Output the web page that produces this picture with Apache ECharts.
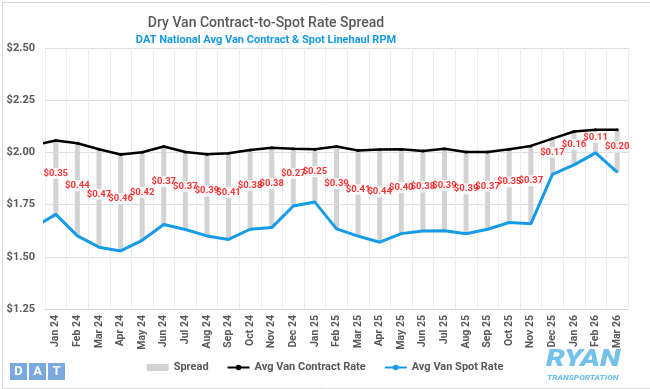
<!DOCTYPE html>
<html><head><meta charset="utf-8">
<script src="https://cdn.jsdelivr.net/npm/echarts@6/dist/echarts.min.js"></script>
<style>html,body{margin:0;padding:0;background:#fff}#c{width:650px;height:389px}</style>
</head><body><div id="c"></div>
<script>
const categories = ["Jan 24","Feb 24","Mar 24","Apr 24","May 24","Jun 24","Jul 24","Aug 24","Sep 24","Oct 24","Nov 24","Dec 24","Jan 25","Feb 25","Mar 25","Apr 25","May 25","Jun 25","Jul 25","Aug 25","Sep 25","Oct 25","Nov 25","Dec 25","Jan 26","Feb 26","Mar 26"];
const contractRate = [2.057,2.044,2.015,1.990,2.001,2.028,2.002,1.991,1.996,2.012,2.022,2.017,2.015,2.028,2.009,2.014,2.015,2.007,2.018,2.002,2.002,2.015,2.031,2.066,2.100,2.108,2.108];
const spotRate = [1.703,1.600,1.546,1.528,1.579,1.655,1.631,1.600,1.583,1.632,1.640,1.743,1.762,1.634,1.599,1.570,1.611,1.624,1.625,1.610,1.632,1.664,1.658,1.895,1.940,1.998,1.906];
const spreadLabels = [0.35,0.44,0.47,0.46,0.42,0.37,0.37,0.39,0.41,0.38,0.38,0.27,0.25,0.39,0.41,0.44,0.40,0.38,0.39,0.39,0.37,0.35,0.37,0.17,0.16,0.11,0.20];
// prior month (Dec 23) values, partly visible at the plot's left edge
const priorContract = 2.035;
const priorSpot = 1.642;
const yTicks = [1.25, 1.50, 1.75, 2.00, 2.25, 2.50];

const FONT = 'Roboto, "Noto Sans", sans-serif';
const GRAY = '#595959';
const chart = echarts.init(document.getElementById('c'));
const toXY = (prior, arr) => [[-1, prior]].concat(arr.map((v, i) => [i, v]));

chart.setOption({
  animation: false,
  backgroundColor: '#fff',
  textStyle: {fontFamily: FONT},
  title: [
    {text: 'Dry Van Contract-to-Spot Rate Spread', left: 261, textAlign: 'center', top: 11,
     textStyle: {fontFamily: FONT, fontSize: 14, fontWeight: 500, color: GRAY}},
    {text: 'DAT National Avg Van Contract & Spot Linehaul RPM', left: 261, textAlign: 'center', top: 30,
     textStyle: {fontFamily: FONT, fontSize: 11, fontWeight: 'bold', color: '#159ae6'}}
  ],
  grid: {left: 45, right: 22, top: 48, bottom: 80},
  legend: {
    bottom: 11, left: 'center', itemWidth: 22, itemHeight: 7, itemGap: 18,
    textStyle: {fontFamily: FONT, fontSize: 11, fontWeight: 'bold', color: GRAY},
    data: [
      {name: 'Spread', icon: 'rect'},
      {name: 'Avg Van Contract Rate'},
      {name: 'Avg Van Spot Rate'}
    ]
  },
  xAxis: [
    {type: 'category', data: categories, boundaryGap: true,
     axisLine: {lineStyle: {color: '#d0d0d0'}}, axisTick: {show: false},
     splitLine: {show: true, lineStyle: {color: '#ececec'}},
     axisLabel: {rotate: 90, interval: 0, margin: 6, fontFamily: FONT, fontSize: 10.5, fontWeight: 'bold', color: GRAY}},
    {type: 'value', min: -0.5, max: categories.length - 0.5, show: false}
  ],
  yAxis: {
    type: 'value', min: yTicks[0], max: yTicks[yTicks.length - 1], interval: 0.25,
    axisLine: {show: false}, axisTick: {show: false},
    splitLine: {lineStyle: {color: '#e0e0e0'}},
    axisLabel: {margin: 10, fontFamily: FONT, fontSize: 11, fontWeight: 'bold', color: GRAY,
                formatter: v => '$' + v.toFixed(2)}
  },
  series: [
    {name: 'base', type: 'bar', stack: 's', xAxisIndex: 0, barWidth: 5, silent: true,
     itemStyle: {color: 'transparent'}, data: spotRate},
    {name: 'Spread', type: 'bar', stack: 's', xAxisIndex: 0, barWidth: 5,
     itemStyle: {color: '#d3d3d3'},
     data: contractRate.map((c, i) => c - spotRate[i])},
    {name: 'spreadLabel', type: 'scatter', xAxisIndex: 1, silent: true, z: 3,
     data: contractRate.map((c, i) => [i, (c + spotRate[i]) / 2]),
     symbol: 'rect', symbolSize: [9, 11], symbolOffset: [0, -4],
     itemStyle: {color: '#fff'},
     labelLayout: {hideOverlap: false},
     label: {show: true, position: 'inside', offset: [0, 0],
             color: '#ff0000', fontFamily: FONT, fontSize: 9.5, fontWeight: 'bold',
             formatter: p => '$' + spreadLabels[p.dataIndex].toFixed(2)}},
    {name: 'Avg Van Contract Rate', type: 'line', xAxisIndex: 1, clip: true,
     data: toXY(priorContract, contractRate), symbol: 'circle', symbolSize: 3,
     lineStyle: {color: '#000', width: 2.5}, itemStyle: {color: '#000'}, z: 5},
    {name: 'Avg Van Spot Rate', type: 'line', xAxisIndex: 1, clip: true,
     data: toXY(priorSpot, spotRate), symbol: 'circle', symbolSize: 2, showSymbol: true,
     lineStyle: {color: '#169be8', width: 3}, itemStyle: {color: '#169be8'}, z: 6}
  ],
  graphic: [
    {type: 'rect', left: 0, top: 0, shape: {x: 0.5, y: 0.5, width: 648, height: 386}, style: {fill: 'none', stroke: '#d9d9d9', lineWidth: 1}, silent: true},
    {type: 'group', left: 10, top: 363, children: [
      {type: 'rect', shape: {x: 0, y: 0, width: 17, height: 17}, style: {fill: '#7aa9e0'}},
      {type: 'rect', shape: {x: 19, y: 0, width: 17, height: 17}, style: {fill: '#7aa9e0'}},
      {type: 'rect', shape: {x: 38, y: 0, width: 17, height: 17}, style: {fill: '#7aa9e0'}},
      {type: 'text', x: 8.5, y: 9, style: {text: 'D', fill: '#fff', font: 'bold 13px ' + FONT, align: 'center', verticalAlign: 'middle'}},
      {type: 'text', x: 27.5, y: 9, style: {text: 'A', fill: '#fff', font: 'bold 13px ' + FONT, align: 'center', verticalAlign: 'middle'}},
      {type: 'text', x: 46.5, y: 9, style: {text: 'T', fill: '#fff', font: 'bold 13px ' + FONT, align: 'center', verticalAlign: 'middle'}}
    ]},
    {type: 'text', x: 546, y: 349, scaleX: 1.3, style: {text: 'RYAN', fill: '#74c2ea', font: 'italic 900 23px ' + FONT}},
    {type: 'text', x: 547, y: 374, scaleX: 1.05, style: {text: 'TRANSPORTATION', fill: '#74c2ea', font: 'italic 900 8px ' + FONT}}
  ]
});
</script></body></html>
